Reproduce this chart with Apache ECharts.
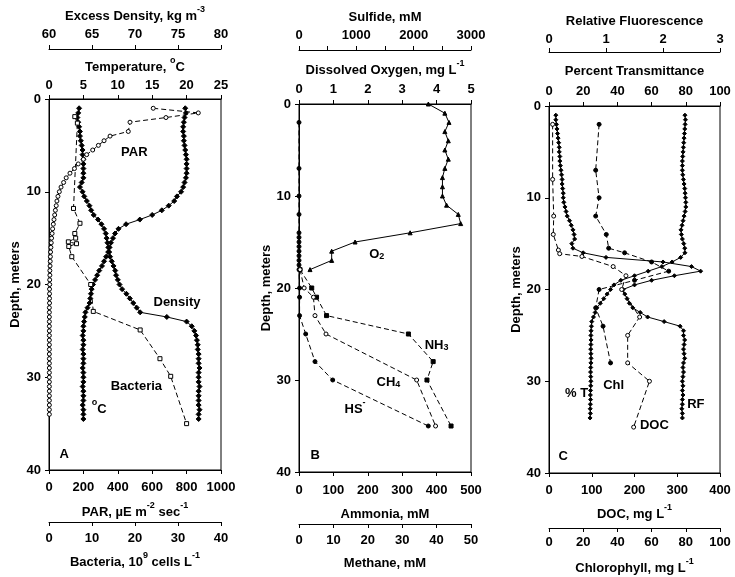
<!DOCTYPE html>
<html><head><meta charset="utf-8">
<script src="https://cdn.jsdelivr.net/npm/echarts@6/dist/echarts.min.js"></script>
<style>html,body{margin:0;padding:0;background:#fff}#c{width:735px;height:577px}</style>
</head><body><div id="c"></div>
<script>
// ---------- Panel A ----------
const tempDepth = [1,1.5,2,2.5,3,3.5,4,4.5,5,5.5,6,6.5,7,7.5,8,8.5,9,9.5,10,10.5,11,11.5,12,12.5,13,13.5,14,14.5,15,15.5,16,16.5,17,17.5,18,18.5,19,19.5,20,20.5,21,21.5,22,22.5,23,23.5,24,24.5,25,25.5,26,26.5,27,27.5,28,28.5,29,29.5,30,30.5,31,31.5,32,32.5,33,33.5,34,34.5];
const temperature = [19.8,19.9,19.7,19.6,19.5,19.5,19.6,19.6,19.7,19.8,19.9,20.0,20.0,20.0,20.0,19.9,19.7,19.5,19.2,18.6,18.2,17.4,16.4,15.0,13.2,11.2,10.1,9.6,9.3,9.0,8.8,8.6,8.3,8.0,7.7,7.3,7.0,6.7,6.4,6.2,6.1,6.0,5.9,5.6,5.3,5.2,5.1,5.0,5.0,4.9,5.0,5.0,4.9,5.0,5.0,5.0,4.9,5.0,5.0,5.0,4.9,5.0,5.0,5.0,4.9,5.0,5.0,5.0];
const density = [63.5,63.4,63.3,63.4,63.5,63.6,63.6,63.7,63.8,63.9,63.9,64.0,64.0,64.0,64.0,64.0,63.8,63.6,63.9,64.1,64.4,64.7,64.9,65.2,65.7,66.1,66.4,66.6,66.7,66.8,66.9,67.0,67.1,67.3,67.5,67.7,67.8,68.0,68.2,68.5,69.0,69.4,69.8,70.2,70.6,73.7,76.0,76.6,76.9,77.1,77.2,77.3,77.3,77.4,77.4,77.4,77.5,77.4,77.4,77.4,77.5,77.4,77.4,77.4,77.4,77.5,77.4,77.4];
const parDepth = [1,1.5,2,2.5,3.5,4,4.5,5,5.5,6,6.5,7,7.5,8,8.5,9,9.5,10,10.5,11,11.5,12,12.5,13,13.5,14,14.5,15,15.5,16,16.5,17,17.5,18,18.5,19,19.5,20,20.5,21,21.5,22,22.5,23,23.5,24,24.5,25,25.5,26,26.5,27,27.5,28,28.5,29,29.5,30,30.5,31,31.5,32,32.5,33,33.5,34];
const par = [606,868,680,471,461,355,320,287,254,219,200,170,148,122,100,85,70,60,52,46,42,37,33,29,25,21,18,15,13,11,9,8,7,6,5,5,4,4,3,3,3,3,2,2,2,2,2,2,2,2,2,2,2,2,2,2,2,2,2,2,2,2,2,2,2,2];
const bactDepth = [1.9,2.6,11.8,13.4,14.5,15.0,15.4,15.6,15.9,17.0,20.0,22.9,24.9,28.0,29.9,35.0];
const bacteria = [6.0,6.6,5.7,7.2,6.0,6.2,4.5,6.4,4.6,5.3,9.7,10.3,21.2,25.8,28.3,32.0];
// ---------- Panel B ----------
const o2Depth = [0,1,2,3,4,5,6,7,8,9,10,11,12,13,14,15,16,17,18];
const oxygen = [3.76,4.24,4.36,4.24,4.34,4.24,4.34,4.24,4.17,4.17,4.17,4.29,4.63,4.70,3.23,1.63,0.95,0.95,0.32];
const sulfideDepth = [2,7,10,12,14,14.5,15,15.5,16,16.5,17,17.5,18,20,21,23,25,28,30,35];
const sulfide = [0,0,0,0,0,0,0,0,0,0,0,0,0,10,10,10,117,279,588,2255];
const ammoniaDepth = [18,20,21,23,25,28,30,35];
const ammonia = [3,37,51,80,318,390,372,442];
const methaneDepth = [18,20,21,23,25,30,35];
const methane = [0.3,1.5,4.2,4.65,7.85,34.2,39.7];
// ---------- Panel C ----------
const optDepth = [1,1.5,2,2.5,3,3.5,4,4.5,5,5.5,6,6.5,7,7.5,8,8.5,9,9.5,10,10.5,11,11.5,12,12.5,13,13.5,14,14.5,15,15.5,16,16.5,17,17.5,18,18.5,19,19.5,20,20.5,21,21.5,22,22.5,23,23.5,24,24.5,25,25.5,26,26.5,27,27.5,28,28.5,29,29.5,30,30.5,31,31.5,32,32.5,33,33.5,34];
const transmittance = [79.5,79.8,79.6,79.4,79.2,79.0,78.8,78.6,78.4,78.2,78.0,78.0,78.0,78.2,78.6,79.0,79.4,79.6,79.8,80.0,80.0,79.6,79.0,78.4,77.8,77.2,77.4,78.0,78.8,79.4,79.5,77.0,72.0,66.0,58.0,50.0,42.0,38.0,36.0,34.0,32.0,30.0,28.0,27.0,26.0,25.0,24.8,24.6,24.5,24.6,24.5,24.4,24.5,24.6,24.5,24.4,24.3,24.4,24.5,24.4,24.3,24.2,24.3,24.2,24.1,24.2,24.0];
const fluorescence = [0.12,0.12,0.13,0.14,0.15,0.16,0.17,0.18,0.18,0.19,0.19,0.20,0.21,0.22,0.23,0.23,0.24,0.25,0.25,0.26,0.28,0.30,0.32,0.36,0.39,0.42,0.44,0.45,0.40,0.42,0.60,1.00,2.00,2.50,2.66,2.20,1.80,1.50,1.30,1.33,1.37,1.41,1.47,1.60,1.73,2.02,2.30,2.36,2.36,2.38,2.37,2.36,2.37,2.38,2.36,2.35,2.36,2.35,2.34,2.35,2.34,2.35,2.34,2.34,2.33,2.34,2.34];
const chlDepth = [2,7,10,12,14,15.5,16,17,18,19,20,22,24,28];
const chlorophyll = [29.3,27.3,29.3,27.3,33.5,34.9,44.2,60,70,50,29.3,27.3,31.6,36.0];
const docDepth = [2,8,12,14,15.7,16.1,16.4,17.5,18.5,20,23,25,28,30,35];
const doc = [8.5,8.5,11,10,22,25,77,150,180,170,212,184,184,235,198];

const axisFont = 'Liberation Sans, Arial, sans-serif';
const pairs = (xs, ds) => xs.map((v, i) => [v, ds[i]]);

const grids = [
  {left: 49, width: 172, top: 99, height: 371},
  {left: 299, width: 172, top: 104, height: 368},
  {left: 549, width: 171, top: 106, height: 367}
];

const txt = {color: '#000', fontFamily: axisFont, fontWeight: 'bold'};
const rich = {
  n: Object.assign({fontSize: 13, lineHeight: 18, verticalAlign: 'bottom'}, txt),
  s: Object.assign({fontSize: 9, lineHeight: 18, verticalAlign: 'top', padding: [0, 0, 6, 0]}, txt),
  b: Object.assign({fontSize: 9, lineHeight: 18, verticalAlign: 'bottom', padding: [6, 0, 0, 0]}, txt)
};
// zrender-style rich for graphic text
const richG = {};
Object.keys(rich).forEach(k => {
  const r = Object.assign({}, rich[k]); r.fill = '#000'; delete r.color; richG[k] = r;
});

function xAx(grid, pos, offset, min, max, interval, name, labelMargin, nameGap, fmt) {
  return {
    type: 'value', gridIndex: grid, position: pos, offset: offset,
    min: min, max: max, interval: interval,
    name: name, nameLocation: 'middle', nameGap: nameGap,
    nameTextStyle: {rich: rich},
    axisLine: {show: true, onZero: false, lineStyle: {color: '#000', width: 1}},
    axisTick: {show: true, inside: false, length: 4, lineStyle: {color: '#000'}},
    axisLabel: {show: true, margin: labelMargin, fontFamily: axisFont, fontWeight: 'bold', fontSize: 13, color: '#000',
      formatter: fmt || (v => String(v)), hideOverlap: false},
    splitLine: {show: false}
  };
}
function yAx(grid, nameGap) {
  return {
    type: 'value', gridIndex: grid, inverse: true, min: 0, max: 40, interval: 10,
    name: 'Depth, meters', nameLocation: 'middle', nameGap: nameGap, nameRotate: 90,
    nameTextStyle: {fontFamily: axisFont, fontWeight: 'bold', fontSize: 13, color: '#000'},
    axisLine: {show: true, onZero: false, lineStyle: {color: '#000'}},
    axisTick: {show: true, inside: false, length: 4, lineStyle: {color: '#000'}},
    axisLabel: {margin: 8, fontFamily: axisFont, fontWeight: 'bold', fontSize: 13, color: '#000'},
    splitLine: {show: false}
  };
}

const xAxes = [
  xAx(0, 'top', 0, 0, 25, 5, '{n|Temperature, }{s|o}{n|C}', 7, 25),
  xAx(0, 'top', 50, 60, 80, 5, '{n|Excess Density, kg m}{s|-3}', 8, 26),
  xAx(0, 'bottom', 0, 0, 1000, 200, '{n|PAR, µE m}{s|-2}{n| sec}{s|-1}', 11, 31),
  xAx(0, 'bottom', 52, 0, 40, 10, '{n|Bacteria, 10}{s|9}{n| cells L}{s|-1}', 10, 29),
  xAx(1, 'top', 0, 0, 5, 1, '{n|Dissolved Oxygen, mg L}{s|-1}', 8, 27),
  xAx(1, 'top', 54, 0, 3000, 500, '{n|Sulfide, mM}', 8, 26, v => (v % 1000 === 0 ? String(v) : '')),
  xAx(1, 'bottom', 0, 0, 500, 100, '{n|Ammonia, mM}', 12, 31),
  xAx(1, 'bottom', 52, 0, 50, 10, '{n|Methane, mM}', 10, 28),
  xAx(2, 'top', 0, 0, 100, 20, '{n|Percent Transmittance}', 8, 28),
  xAx(2, 'top', 54, 0, 3, 1, '{n|Relative Fluorescence}', 6, 22),
  xAx(2, 'bottom', 0, 0, 400, 100, '{n|DOC, mg L}{s|-1}', 11, 30),
  xAx(2, 'bottom', 55, 0, 100, 20, '{n|Chlorophyll, mg L}{s|-1}', 8, 29)
];
const yAxes = [yAx(0, 27), yAx(1, 26), yAx(2, 26)];

function line(xi, yi, data, symbol, size, filled, dashed) {
  return {
    type: 'line', xAxisIndex: xi, yAxisIndex: yi, data: data,
    symbol: symbol, symbolSize: size, showSymbol: true, animation: false,
    lineStyle: {color: '#000', width: 1, type: dashed ? [5, 3] : 'solid'},
    itemStyle: {color: filled ? '#000' : '#fff', borderColor: '#000', borderWidth: 1},
    emphasis: {disabled: true}, silent: true, z: 3
  };
}

const series = [
  line(1, 0, pairs(density, tempDepth), 'diamond', 5, true, false),
  line(0, 0, pairs(temperature, tempDepth), 'diamond', 5, true, false),
  line(2, 0, pairs(par, parDepth), 'circle', 4, false, true),
  line(3, 0, pairs(bacteria, bactDepth), 'rect', 4, false, true),
  line(4, 1, pairs(oxygen, o2Depth), 'triangle', 4, true, false),
  line(5, 1, pairs(sulfide, sulfideDepth), 'circle', 4, true, true),
  line(6, 1, pairs(ammonia, ammoniaDepth), 'rect', 4, true, true),
  line(7, 1, pairs(methane, methaneDepth), 'circle', 4, false, true),
  line(8, 2, pairs(transmittance, optDepth), 'diamond', 4, true, false),
  line(9, 2, pairs(fluorescence, optDepth), 'diamond', 4, true, false),
  line(11, 2, pairs(chlorophyll, chlDepth), 'circle', 4, true, true),
  line(10, 2, pairs(doc, docDepth), 'circle', 4, false, true)
];

// annotation texts, anchored in data space of [xAxisIndex, yAxisIndex]
const notes = [
  [0, 0, 12.4, 5.5, '{n|PAR}'],
  [0, 0, 18.6, 21.7, '{n|Density}'],
  [0, 0, 12.7, 30.7, '{n|Bacteria}'],
  [0, 0, 7.3, 33.2, '{s|o}{n|C}'],
  [0, 0, 2.2, 38.1, '{n|A}'],
  [4, 1, 2.26, 16.1, '{n|O}{b|2}'],
  [4, 1, 4.0, 26.0, '{n|NH}{b|3}'],
  [4, 1, 2.6, 30.0, '{n|CH}{b|4}'],
  [4, 1, 1.63, 32.9, '{n|HS}{s|-}'],
  [4, 1, 0.47, 37.9, '{n|B}'],
  [8, 2, 16.1, 31.0, '{n|% T}'],
  [8, 2, 37.8, 30.2, '{n|Chl}'],
  [8, 2, 61.6, 34.5, '{n|DOC}'],
  [8, 2, 85.9, 32.2, '{n|RF}'],
  [8, 2, 8.3, 37.9, '{n|C}']
];

const chart = echarts.init(document.getElementById('c'), null, {renderer: 'canvas'});
chart.setOption({
  animation: false,
  backgroundColor: '#fff',
  grid: grids.map(g => Object.assign({show: true, borderColor: '#000', borderWidth: 1, backgroundColor: 'transparent', containLabel: false, outerBoundsMode: 'none'}, g)),
  xAxis: xAxes,
  yAxis: yAxes,
  series: series
});
chart.setOption({
  graphic: notes.map(n => {
    const p = chart.convertToPixel({xAxisIndex: n[0], yAxisIndex: n[1]}, [n[2], n[3]]);
    return {
      type: 'text', x: p[0], y: p[1], z: 10, silent: true,
      style: {text: n[4], rich: richG, fill: '#000', align: 'center', verticalAlign: 'middle',
        font: 'bold 13px ' + axisFont}
    };
  })
});
</script></body></html>
